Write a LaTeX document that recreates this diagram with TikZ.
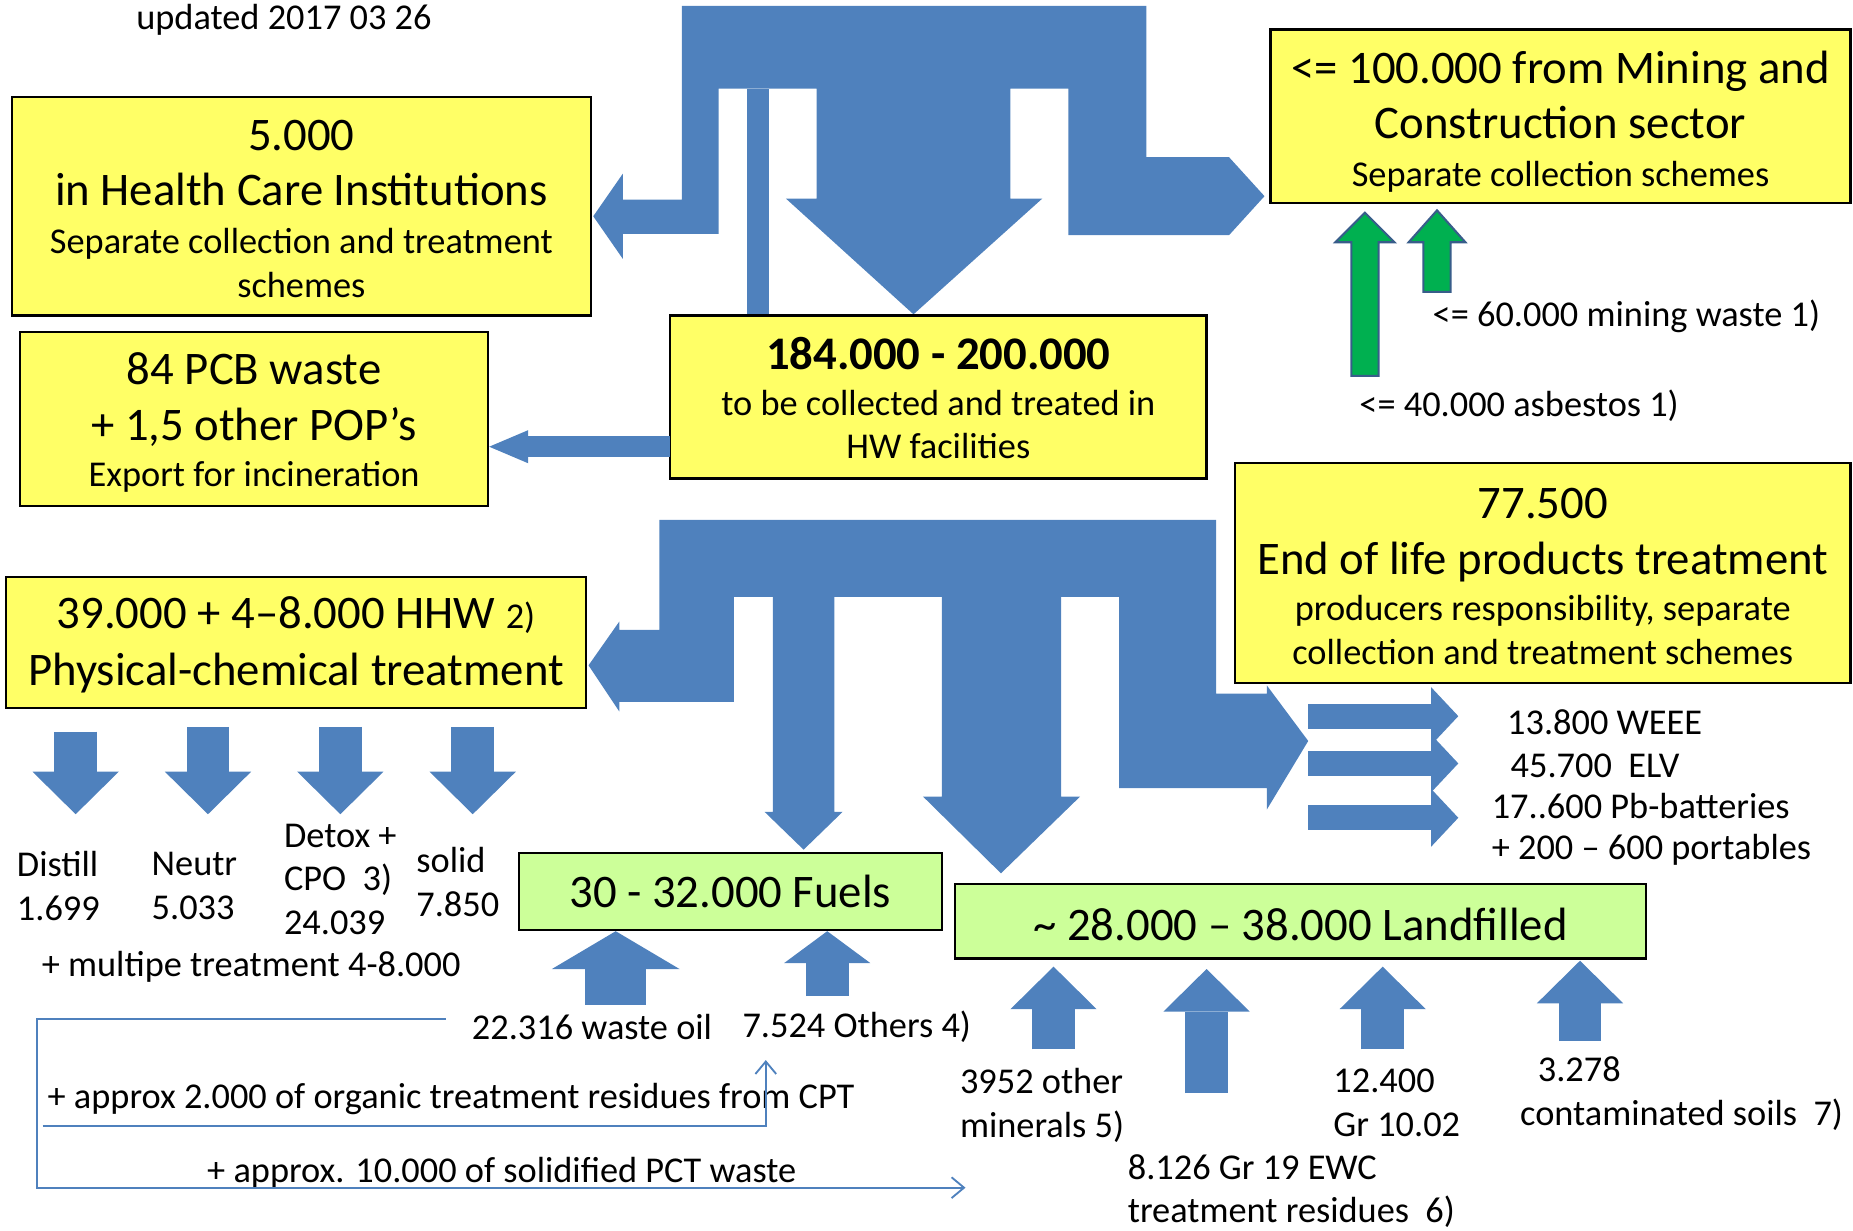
\documentclass[tikz,border=0pt]{standalone}
\usepackage{fontspec}
\setmainfont{Carlito}
\usetikzlibrary{arrows.meta,positioning}
\definecolor{hwBlue}{HTML}{4F81BD}
\definecolor{hwBlueDark}{HTML}{385D8A}
\definecolor{hwYellow}{HTML}{FFFF66}
\definecolor{hwLightGreen}{HTML}{CCFF99}
\definecolor{hwGreen}{HTML}{00B050}
\newcommand{\fB}{\fontsize{22.5}{26.75}\selectfont}
\newcommand{\fS}{\fontsize{17.5}{21.06}\selectfont}
\newcommand{\tstr}[1]{\rule{0pt}{#1}}
\tikzset{
  % Yellow sector box
  ybox/.style={rectangle,draw=black,line width=1.1pt,fill=hwYellow,
    align=center,inner sep=0pt,font={\fS\lineskiplimit=-40pt}},
  % Green destination box
  gbox/.style={ybox,fill=hwLightGreen},
  % Plain labels
  lbl/.style={anchor=west,inner sep=0pt,align=left,
    font={\fS\lineskiplimit=-40pt}},
  % Block flows
  flow/.style={fill=hwBlue},
  fat/.style={draw=hwBlue,line width=0.72cm,
    -{Triangle[width=1.46cm,length=0.72cm,line width=0pt 0]}},
  fatsh/.style={draw=hwBlue,line width=0.72cm,
    -{Triangle[width=1.46cm,length=0.54cm,line width=0pt 0]}},
  fatbig/.style={draw=hwBlue,line width=1.04cm,
    -{Triangle[width=2.16cm,length=0.64cm,line width=0pt 0]}},
  fatsm/.style={draw=hwBlue,line width=0.42cm,
    -{Triangle[width=0.98cm,length=0.46cm,line width=0pt 0]}},
  fatexp/.style={draw=hwBlue,line width=0.36cm,
    -{Triangle[width=0.56cm,length=0.66cm,line width=0pt 0]}},
  % Green feed arrows
  feed/.style={fill=hwGreen,draw=hwBlueDark,line width=1pt},
  % Thin connectors
  arr/.style={draw=hwBlue,line width=0.9pt,
    -{Straight Barb[length=6pt,width=10pt]}},
}

\begin{document}
\begin{tikzpicture}[x=0.02cm,y=-0.02cm]
  \useasboundingbox (0,0) rectangle (1568,1041);

  % upper split
  \fill[flow] (577,5) -- (970,5) -- (970,133) -- (1040,133) -- (1070,166)
    -- (1040,199) -- (904,199) -- (904,75) -- (855,75) -- (855,168)
    -- (882,168) -- (773,266) -- (665,168) -- (691,168) -- (691,75)
    -- (608,75) -- (608,198) -- (527,198) -- (527,219) -- (502,183)
    -- (527,147) -- (527,169) -- (577,169) -- cycle;
  \fill[flow] (632,75) rectangle (651,267);
  % lower split
  \fill[flow] (558,440) -- (1029,440) -- (1029,587) -- (1072,587)
    -- (1072,580) -- (1107,627) -- (1072,685) -- (1072,667) -- (947,667)
    -- (947,505) -- (898,505) -- (898,674) -- (914,674) -- (847,739)
    -- (781,674) -- (797,674) -- (797,505) -- (706,505) -- (706,687)
    -- (713,687) -- (680,719) -- (647,687) -- (654,687) -- (654,505)
    -- (621,505) -- (621,594) -- (524,594) -- (524,602) -- (498,563)
    -- (524,526) -- (524,533) -- (558,533) -- cycle;

  \node[ybox,minimum width=9.8cm,minimum height=3.7cm] (hc) at (255,174.5)
    {\fB\tstr{17pt}5.000\\[5.7pt]\fB in Health Care Institutions\\[1.8pt]
     Separate collection and treatment\\schemes};
  \node[ybox,minimum width=7.92cm,minimum height=2.94cm] (pcb) at (215,354.5)
    {\fB\tstr{19pt}84 PCB waste\\[5.7pt]\fB + 1,5 other POP’s\\[1.3pt]
     Export for incineration};
  \node[ybox,minimum width=9.08cm,minimum height=2.76cm] (hw) at (794,336)
    {\fB\bfseries\tstr{16.8pt}184.000 - 200.000\\[0.7pt]
     to be collected and treated in\\HW facilities};
  \node[ybox,minimum width=9.82cm,minimum height=2.94cm] (mine) at (1320.5,98.5)
    {\fB\tstr{20.5pt}<= 100.000 from Mining and\\[5.7pt]\fB Construction sector\\[1.8pt]
     Separate collection schemes};
  \node[ybox,minimum width=10.42cm,minimum height=3.72cm] (eol) at (1305.5,485)
    {\fB\tstr{17.8pt}77.500\\[5.7pt]\fB End of life products treatment\\[1.3pt]
     producers responsibility, separate\\collection and treatment schemes};
  \node[ybox,minimum width=9.82cm,minimum height=2.22cm] (pct) at (250.5,543.5)
    {\fB\tstr{17.8pt}39.000 + 4–8.000 HHW {\fS 2)}\\[6.3pt]\fB Physical-chemical treatment};
  \node[gbox,minimum width=7.16cm,minimum height=1.3cm] (fuel) at (618,754.5)
    {\fB 30 - 32.000 Fuels};
  \node[gbox,minimum width=11.7cm,minimum height=1.26cm] (land) at (1100.5,779.5)
    {\fB\tstr{18.5pt}\textasciitilde{} 28.000 – 38.000 Landfilled};

  \node[lbl] (upd) at (115,17) {updated 2017 03 26};
  \node[lbl] (mw) at (1212,268) {<= 60.000 mining waste 1)};
  \node[lbl] (asb) at (1150,343) {<= 40.000 asbestos 1)};
  \node[lbl] (weee) at (1275,611) {13.800 WEEE};
  \node[lbl] (elv) at (1278,648) {45.700\ \ ELV};
  \node[lbl] (pb) at (1262,682) {17..600 Pb-batteries};
  \node[lbl] (port) at (1262,719) {+ 200 – 600 portables};
  \node[lbl] (dist) at (14,749.5) {Distill\\1.699};
  \node[lbl] (neu) at (128,749.5) {Neutr\\5.033};
  \node[lbl] (detox) at (240,744) {Detox +\\CPO\ \ 3)\\24.039};
  \node[lbl] (solid) at (352,746.5) {solid\\7.850};
  \node[lbl] (mult) at (35,818) {+ multipe treatment 4-8.000};
  \node[lbl] (oil) at (399,869) {22.316 waste oil};
  \node[lbl] (oth) at (628,869) {7.524 Others 4)};
  \node[lbl] (org) at (40,930) {+ approx 2.000 of organic treatment residues from CPT};
  \node[lbl] (sol) at (175,992) {+ approx. 10.000 of solidified PCT waste};
  \node[lbl] (minr) at (812,935.5) {3952 other\\minerals 5)};
  \node[lbl] (ewc) at (954,1008) {8.126 Gr 19 EWC\\treatment residues\ \ 6)};
  \node[lbl] (gr) at (1128,933) {12.400\\Gr 10.02};
  \node[lbl] (soila) at (1301,905) {3.278};
  \node[lbl] (soilb) at (1286,943) {contaminated soils\ \ 7)};

  % export to incineration
  \coordinate (ex) at (567,378);
  \draw[fatexp] (ex) -- (ex -| pcb.east);

  % green feeds into mining box
  \filldraw[feed] (1143.5,318) -- (1143.5,205) -- (1130,205) -- (1155,180)
    -- (1180,205) -- (1166.5,205) -- (1166.5,318) -- cycle;
  \filldraw[feed] (1204.5,247) -- (1204.5,205) -- (1192,205) -- (1216,178)
    -- (1240,205) -- (1227.5,205) -- (1227.5,247) -- cycle;

  % physical-chemical outputs
  \coordinate (dtip) at (0,689);
  \coordinate (dA) at (64,619);
  \coordinate (dB) at (176,615);
  \coordinate (dC) at (288,615);
  \coordinate (dD) at (400,615);
  \draw[fat] (dA) -- (dA |- dtip);
  \draw[fat] (dB) -- (dB |- dtip);
  \draw[fat] (dC) -- (dC |- dtip);
  \draw[fat] (dD) -- (dD |- dtip);

  % end of life outputs
  \coordinate (rtip) at (1234,0);
  \coordinate (rA) at (1107,606);
  \coordinate (rB) at (1107,646);
  \coordinate (rC) at (1107,692);
  \draw[fatsm] (rA) -- (rA -| rtip);
  \draw[fatsm] (rB) -- (rB -| rtip);
  \draw[fatsm] (rC) -- (rC -| rtip);

  % into fuels
  \coordinate (fA) at (521,850);
  \coordinate (fB) at (700,843);
  \draw[fatbig] (fA) -- (fA |- fuel.south);
  \draw[fatsh] (fB) -- (fB |- fuel.south);

  % into landfill
  \coordinate (lA) at (891.5,888);
  \coordinate (lB) at (1021,925);
  \coordinate (lC) at (1170,888);
  \coordinate (lD) at (1337,881);
  \draw[fat,shorten >=0.12cm] (lA) -- (lA |- land.south);
  \draw[fat,shorten >=0.16cm] (lB) -- (lB |- land.south);
  \draw[fat,shorten >=0.12cm] (lC) -- (lC |- land.south);
  \draw[fat,shorten >=0.02cm] (lD) -- (lD |- land.south);

  % residues routed on
  \coordinate (rsA) at (377,862);
  \coordinate (rsCorner) at (31,1005);
  \coordinate (rsEnd) at (817,1005);
  \draw[arr] (rsA) -| (rsCorner) -- (rsEnd);
  \coordinate (rsB) at (36,953);
  \coordinate (rsUp) at (648,897);
  \draw[arr] (rsB) -| (rsUp);
\end{tikzpicture}
\end{document}
